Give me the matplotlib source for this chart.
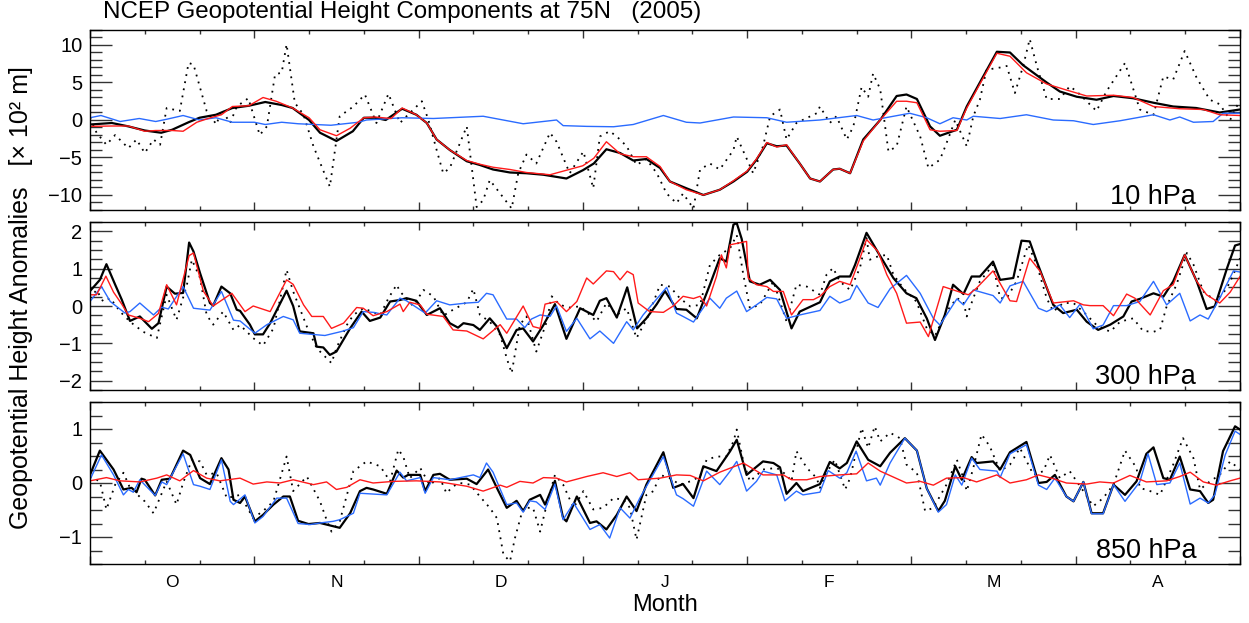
import matplotlib
matplotlib.use('Agg')
import numpy as np
import matplotlib.pyplot as plt
from matplotlib.ticker import MultipleLocator, NullFormatter

plt.rcParams['font.family'] = ['Liberation Sans', 'DejaVu Sans']

# x in days from 1 Oct, 30-day months (Oct..Apr)
month_labels = ['O', 'N', 'D', 'J', 'F', 'M', 'A']
panel_labels = ['10 hPa', '300 hPa', '850 hPa']

# ---- 10 hPa (x 10^2 m) ----
z10_black = [(0, -0.6), (4, -0.4), (7, -0.85), (10, -1.4), (13, -1.7), (15, -1.3), (18, -0.3), (20, 0.3), (23, 0.7),
             (26, 1.6), (29, 1.9), (32, 2.4), (35, 2.0), (37, 1.6), (40, 0), (42, -1.7), (45, -2.8), (48, -1.5),
             (50, 0.3), (52, 0.3), (54, 0), (57, 1.5), (59.6, 0.7), (61.5, -0.4), (63.3, -2.6), (65.7, -4),
             (68.8, -5.5), (71.2, -6), (73.6, -6.6), (76.7, -7), (79.7, -7.1), (82.8, -7.3), (87, -7.8), (90, -6.7),
             (92, -5.8), (94.3, -3.9), (96.8, -4.4), (99.2, -5.4), (101.6, -5.2), (104.1, -6.4), (105.9, -8.2),
             (108.9, -9.1), (112, -10), (115, -9.3), (117.5, -8.2), (120, -6.9), (121.7, -5.3), (123.6, -3.1),
             (125.4, -3.5), (127.2, -3.4), (129.6, -5.8), (131.5, -7.8), (133.3, -8.2), (135.7, -6.6), (136.9, -6.5),
             (138.8, -7.1), (141.2, -2.6), (144.3, 0), (147.3, 3.2), (149.1, 3.4), (151, 2.8), (153.4, -0.85),
             (155.2, -2.1), (158.3, -1.3), (160.1, 1.8), (162.5, 5), (165.6, 9.1), (168, 9), (170.4, 7.3),
             (174.7, 5), (177.1, 3.8), (180.2, 3.1), (183.8, 2.7), (186.9, 3.2), (190.5, 2.9), (194.2, 2.3),
             (197.8, 1.8), (202, 1.6), (206.3, 1.0), (210, 1.4)]
z10_red = [(0, -0.85), (4, -0.8), (7, -0.8), (10, -1.5), (12, -1.4), (15, -1.4), (17, -1.5), (19.5, -0.3), (22, 0.3),
           (24, 0.7), (26, 1.8), (29, 1.9), (31.6, 3.0), (34, 2.5), (37, 1.6), (40, 0.3), (42, -1.3), (45, -2.1),
           (47.5, -1.1), (50, 0.3), (52, 0.4), (55, 0.2), (57, 1.6), (59.6, 0.7), (61.5, -0.4), (63.3, -2.6),
           (65.7, -4), (68.8, -5.4), (71.2, -5.9), (73.6, -6.3), (76.7, -6.6), (79.7, -7), (84, -7.3), (87, -6.7),
           (90, -6.1), (92, -5.1), (94.3, -2.9), (96.8, -4.5), (99.2, -4.9), (101.6, -4.9), (104.1, -6.2),
           (105.9, -8.2), (108.9, -9.3), (112, -10), (115, -9.3), (117.5, -8.1), (120, -6.8), (121.7, -5.2),
           (123.6, -3), (125.4, -3.6), (127.2, -3.3), (129.6, -5.8), (131.5, -7.8), (133.3, -8.2), (135.7, -6.6),
           (136.9, -6.5), (138.8, -7.1), (141.2, -2.8), (144.3, 0), (147.3, 2.5), (149.1, 2.5), (151, 2.3),
           (153.4, -1.3), (155.2, -1.5), (158.3, -1.4), (160.1, 1.6), (162.5, 4.8), (165.6, 8.9), (168, 8.5),
           (171, 6.3), (174.7, 4.8), (178.3, 4.0), (182, 3.2), (186.9, 3.3), (190.5, 3.0), (194.2, 1.8),
           (199, 1.5), (203.3, 1.4), (206.3, 0.7), (210, 0.6)]
z10_blue = [(0, 0.3), (2, 0.6), (5.5, -0.2), (9, 0.2), (12, -0.2), (14, 0.1), (17, 0.6), (20, 0), (23, 0.3),
            (26, -0.3), (30, -0.3), (32, -0.6), (35, -0.3), (38, -0.5), (44, -0.7), (49, -0.3), (50.5, 0),
            (57, 0.3), (62.7, 0.2), (71.8, 0.5), (79.1, -0.5), (85.2, 0), (86.4, -0.75), (90.7, -0.85),
            (95.6, -0.9), (99.2, -0.6), (104.7, 0.6), (108.9, -0.3), (111.4, -0.4), (117.5, 0.4), (123.6, 0.3),
            (127.2, -0.3), (133.3, 0), (140, 0.6), (143, 0), (149.7, 0.9), (152.8, 0.3), (155.2, -0.5),
            (157.6, 0.3), (160.1, 0), (161.3, 0.5), (166.2, 0.2), (171, 0.7), (175.9, 0), (179.6, -0.1),
            (183.2, -0.6), (188.1, -0.1), (194.2, 0.7), (197.2, 0), (199, 0.4), (201.5, -0.3), (205.1, -0.2),
            (206.9, 0.9), (210, 0.9)]
z10_dot = [(0, 0.3), (1.2, -1.7), (3, -3.3), (4.6, -2), (7, -3.75), (8.5, -2.6), (10, -4.4), (11.6, -2.6),
           (12.8, -3.3), (14, 1.6), (16.4, 1.2), (18, 7.6), (18.9, 7.4), (21.3, 1.2), (23.1, -0.6), (24, 1.4),
           (25.6, -0.4), (26.8, 1.8), (28.9, 2.9), (31, -2), (32.3, -0.85), (33.8, 6.1), (35, 6.3), (35.9, 10.1),
           (37.4, 2.3), (39, 0.7), (40.8, -3.5), (43.8, -8.9), (45.6, 0.5), (48.1, 1.8), (50.2, 3.4), (52.3, -0.4),
           (54.5, 3.5), (56.6, -0.4), (57.8, 0.5), (60.6, 2.5), (61.8, 0), (63.3, -4), (64.5, -7.1), (65.7, -6.4),
           (68.8, -0.85), (70.6, -11.6), (71.8, -10.7), (73, -8), (74.9, -9.8), (77, -11.8), (78.2, -7.1),
           (79.7, -4.6), (81.5, -5.8), (84, -1.7), (85.2, -2.9), (87.6, -7.1), (90.1, -4.2), (91.9, -9.1),
           (93.1, -2.2), (94.9, -1.5), (96.2, -2.2), (98, -3.5), (99.8, -6), (101.6, -5.2), (103.5, -7.1),
           (105.3, -9.8), (107.1, -11.1), (108.3, -9.8), (110.2, -11.8), (111.4, -6.6), (113.2, -5.8), (115, -6.6),
           (117.5, -4), (118.1, -2.2), (121.1, -7.1), (122.9, -3.5), (124.2, 0.5), (126, 1.4), (127.2, -2.6),
           (129, -0.4), (132.7, 0.9), (133.3, 1.8), (135.1, -0.4), (136.3, 0.5), (138.2, -2.6), (139.4, -0.85),
           (140.9, 4.4), (142.1, 3.1), (143, 6.2), (144.3, 4.1), (145.8, -4.2), (147.3, -3.5), (149.1, 1.8),
           (151.6, -2.2), (153.1, -6.4), (155.2, -5.3), (156.4, -3.1), (158, 0), (160.1, -3.5), (161.3, 0.5),
           (162.5, 2.7), (163.7, 6.7), (166.2, 7), (167.4, 7.2), (168.9, 3.6), (170.4, 7.2), (171.6, 10.8),
           (172.9, 7.2), (174.7, 2.8), (177.1, 2.8), (178.9, 4.5), (180.2, 3.8), (183.8, 1.2), (185.6, 3.8),
           (189, 7.6), (191.7, 1.4), (194.2, 0.7), (196, 5.8), (197.8, 5.4), (199.9, 9.2), (202.1, 5.6),
           (204.5, 2.7), (206.3, 2.1), (208.2, 0), (210, 2.7)]

# ---- 300 hPa ----
z300_black = [(0, 0.4), (1.8, 0.7), (3, 1.12), (4.6, 0.57), (5.8, 0.17), (7.3, -0.4), (9.1, -0.28), (11.3, -0.61),
              (12.5, -0.46), (14, 0.52), (15.5, 0.33), (17, 0.35), (18.1, 1.7), (18.9, 1.46), (20.1, 0.88),
              (21.9, 0.08), (22.5, 0.01), (24, 0.52), (25.6, 0.34), (26.8, -0.1), (27.4, -0.13), (29.2, -0.5),
              (30.1, -0.76), (31.6, -0.76), (32.9, -0.46), (35.9, 0.41), (37.1, 0), (38.3, -0.68), (40.8, -0.73),
              (41.4, -1.09), (42.6, -1.11), (43.8, -1.31), (45, -1.22), (47.5, -0.6), (49.6, -0.15), (51.1, -0.4),
              (53, -0.31), (54.8, 0.12), (56.6, 0.16), (57.8, 0.21), (59.6, 0.14), (61.5, -0.24), (63.9, -0.06),
              (65.7, -0.46), (67.2, -0.58), (68.2, -0.46), (70, -0.51), (71.2, -0.64), (73, -0.33), (74.3, -0.55),
              (76.1, -1.13), (77.9, -0.64), (79.1, -0.6), (80.9, -0.95), (82.8, -0.51), (84.9, 0.05), (87, -0.88),
              (89.5, -0.06), (91.9, -0.24), (93.1, 0.14), (94.3, 0.21), (96.2, -0.31), (98.1, 0.5), (99.9, -0.6),
              (101.6, -0.33), (103.5, 0.05), (105, 0.4), (107.1, -0.08), (108.9, -0.1), (110.8, -0.33),
              (113.2, 0.57), (115, 1.28), (116.2, 1.19), (117.5, 2.18), (118.1, 2.22), (119, 1.8), (120.5, 0.66),
              (122.3, 0.57), (124.2, 0.7), (126, 0.43), (128.1, -0.6), (129.6, -0.15), (133.3, 0.1),
              (135.1, 0.66), (136.9, 0.79), (138.8, 0.79), (139.7, 1.1), (141.8, 1.96), (143.6, 1.51),
              (144.9, 1.19), (146.7, 0.75), (149.1, 0.34), (150.9, 0.21), (152.8, -0.33), (154.3, -0.91),
              (156.1, -0.24), (157.6, 0.57), (159.5, 0.32), (161, 0.79), (162.5, 0.79), (164.9, 1.19), (166.2, 0.7),
              (168.6, 0.75), (170.1, 1.75), (171.6, 1.73), (172.9, 1.19), (175.9, 0.03), (177.7, -0.19),
              (180.2, -0.1), (182, -0.42), (184.1, -0.64), (186.3, -0.5), (188.7, -0.28), (190.2, 0.12),
              (191.7, 0.19), (194.2, 0.34), (196, 0.25), (197.8, 0.66), (199.9, 1.37), (202.1, 0.66),
              (203.9, -0.08), (205.4, -0.01), (207.6, 1.0), (209.1, 1.62), (210, 1.66)]
z300_red = [(0, 0.3), (1.2, 0.3), (2.9, 0.8), (4.3, 0.37), (5.8, 0.05), (7, -0.24), (9.1, -0.33), (10.7, -0.42),
            (12.5, -0.2), (14, 0.57), (15.8, 0.03), (18.1, 1.35), (18.9, 1.42), (20.7, 0.4), (22.5, 0), (25.9, 0.34),
            (28.3, -0.15), (29.8, 0), (32.9, -0.15), (35.9, 0.7), (37.1, 0.58), (39, 0.03), (40.5, -0.28),
            (42.6, -0.28), (44.1, -0.6), (46.3, -0.46), (48.7, -0.04), (49.9, -0.06), (51.7, -0.26), (54.2, -0.15),
            (56.6, 0.05), (57.2, -0.15), (58.4, 0.1), (60.3, 0.03), (61.5, -0.22), (64.5, -0.28), (66.3, -0.64),
            (68.8, -0.67), (71.8, -0.88), (74.9, -0.5), (76.1, -0.73), (79.1, 0), (80.9, -0.55), (82.2, -0.6),
            (83.1, 0.05), (85.2, 0.12), (87, -0.15), (88.9, 0.12), (90.7, 0.75), (91.9, 0.59), (94.3, 0.94),
            (95.6, 0.92), (96.8, 0.7), (98.1, 0.93), (99.2, 0.84), (100.1, 0.08), (102.2, -0.15), (104.7, -0.17),
            (106.5, 0), (108.3, 0.26), (110.2, 0.2), (111.4, 0.26), (112.6, 0), (114.4, 0.79), (115.3, 1.37),
            (116.2, 1.02), (116.9, 1.64), (119.9, 1.73), (120.2, 0.75), (121.7, 0.57), (123.6, 0.52), (124.8, 0.39),
            (126.6, 0.39), (128.1, -0.24), (130.2, 0.17), (132.1, 0.17), (133.3, 0.26), (135.1, 0.52),
            (136.9, 0.66), (138.8, 0.57), (140.6, 1.28), (141.8, 1.78), (143.9, 1.46), (145.5, 0.84), (147.3, 0.34),
            (149.1, -0.46), (151.6, -0.43), (153.1, -0.82), (155.8, 0.52), (158.9, 0.37), (160.4, 0.3),
            (161.9, 0.48), (164.9, 0.94), (168, 0.14), (169.2, 0.12), (171.6, 1.28), (173.5, 0.93), (175.9, 0.08),
            (179.6, 0.14), (181.4, 0.03), (182.6, 0.01), (185, 0.01), (186.9, -0.26), (189.3, 0.32), (190.8, 0.21),
            (193.6, -0.24), (196, 0.41), (197.8, 0.57), (199.9, 1.37), (202.1, 0.66), (203.9, 0.3), (206.3, 0.08),
            (208.2, 0.37), (210, 0.79)]
z300_blue = [(0, 0.12), (2.1, 0.52), (3.7, 0.12), (6.4, -0.19), (7.3, -0.15), (9.1, 0.08), (11.6, -0.24),
             (13.1, -0.03), (14.3, -0.08), (17, 0.52), (18.9, -0.06), (21.9, -0.11), (24, 0.39), (26.2, -0.38),
             (27.4, -0.4), (30.1, -0.73), (32.3, -0.5), (35.3, -0.28), (37.1, -0.37), (38.3, -0.73), (42.9, -0.79),
             (46, -0.68), (48.1, -0.58), (49.9, -0.15), (51.7, -0.17), (54.2, -0.24), (56.6, 0.21), (57.8, 0.14),
             (58.4, 0.08), (61.2, -0.19), (63.3, 0.14), (65.7, 0.03), (68.8, 0.08), (70.9, 0.1), (72.4, 0.34),
             (73.6, 0.3), (76.1, -0.35), (77.9, -0.35), (79.4, -0.58), (80.6, -0.35), (82.2, -0.24), (84, -0.28),
             (85.2, 0), (87, -0.68), (88.9, -0.33), (91.3, -0.88), (93.1, -0.67), (95.6, -1.0), (98, -0.42),
             (99.2, -0.64), (101, -0.24), (105.3, 0.5), (107.1, -0.19), (108.3, -0.28), (110.2, -0.43),
             (113.2, 0.21), (115, -0.06), (116.2, 0.21), (118.1, 0.4), (119.9, -0.15), (121.7, 0.03), (123.6, 0.23),
             (125.4, 0.19), (127.2, -0.33), (129.6, -0.24), (133.3, -0.12), (135.1, 0.26), (136.9, 0.08),
             (138.8, 0.19), (140, 0.55), (142.1, 0.08), (143.9, -0.04), (146.1, 0.46), (149.1, 0.82), (151.6, 0.34),
             (154, -0.33), (155.2, -0.51), (158.3, 0.19), (159.5, 0.03), (161.3, 0.43), (164.9, 0.28), (166.2, 0.08),
             (168, 0.54), (170.4, 0.66), (173.2, -0.06), (174.7, -0.15), (177.1, 0.03), (178.9, -0.31),
             (180.8, 0.05), (183.2, -0.61), (185, -0.51), (186.9, 0.01), (189.3, 0.01), (191.7, 0.12), (194.2, 0.66),
             (196.6, 0.03), (199, 0.34), (200.9, -0.4), (202.7, -0.24), (204.2, -0.35), (206.3, 0.21),
             (208.8, 0.94), (210, 0.91)]
z300_dot = [(0, 0.21), (1.2, 0.43), (2.4, 0.12), (3.7, 0.21), (5.5, -0.15), (7.3, -0.42), (9.7, -0.69), (12.2, -0.86),
            (14, 0.3), (15.2, -0.15), (15.8, -0.37), (17.7, 0.57), (18.6, 1.24), (20.1, 0.75), (21.3, -0.24),
            (22.5, -0.5), (24.3, -0.15), (26.2, -0.64), (27.4, -0.51), (29.8, -0.86), (31.6, -1.06), (33.5, -0.6),
            (34.7, 0.17), (35.9, 0.97), (37.1, 0.39), (39.6, -0.55), (41.4, -1.13), (44.1, -1.53), (45, -1.13),
            (46.9, -0.51), (48.1, -0.24), (49.9, -0.06), (53, -0.24), (54.5, 0.21), (56, 0.57), (56.6, 0.39),
            (59, 0), (60.9, 0.43), (62.7, 0.26), (64.5, -0.26), (66.3, -0.1), (68.8, 0.1), (70, 0.46),
            (71.2, -0.24), (73, -0.42), (74.9, -0.77), (76.1, -1.4), (77, -1.8), (78.5, -0.5), (79.7, -0.28),
            (81.5, -1.22), (83.4, -0.42), (84.3, 0.26), (85.8, 0.03), (87.6, -0.04), (89.5, -0.01), (91.3, -0.24),
            (92.5, -0.42), (94.3, 0.08), (96.2, -0.24), (98, -0.06), (99.8, -0.86), (101.9, -0.28), (104.1, 0.57),
            (105.9, 0.52), (107.7, 0.21), (109.6, -0.01), (111.4, 0.03), (113.2, 1.1), (115, 1.37), (116.9, 1.55),
            (118.1, 1.9), (119.3, 0.84), (120.5, -0.06), (122.3, 0.03), (124.8, 0.66), (127.2, -0.42), (129, 0.57),
            (130.9, 0.52), (133.3, 0.3), (134.5, 0.84), (135.7, 1.02), (136.9, 0.66), (138.8, 0.43), (140.6, 1.02),
            (141.8, 1.82), (142.4, 1.24), (143.9, 1.33), (145.5, 1.37), (146.7, 0.84), (148.5, 0.48),
            (150.9, 0.12), (152.8, -0.6), (154.3, -0.8), (156.4, -0.15), (158.3, 0.21), (159.5, 0.12),
            (160.1, -0.28), (161.3, 0.21), (162.5, 0.66), (164.9, 1.1), (166.2, 0.21), (167.4, 0.21), (169.2, 0.66),
            (171.3, 1.64), (172.9, 1.1), (174.7, 0.21), (175.9, -0.15), (177.7, 0.08), (179.6, 0.08), (182, -0.24),
            (183.8, -0.51), (186.3, -0.69), (188.1, -0.42), (190.5, -0.33), (192.3, -0.67), (194.2, -0.69),
            (195.4, -0.64), (196.6, -0.01), (198.4, 0.57), (200.3, 1.42), (201.5, 1.11), (203.3, 0.39),
            (205.7, 0.12), (207.6, 0.48), (208.8, 0.84), (210, 1.28)]

# ---- 850 hPa ----
z850_black = [(0, 0.15), (1.8, 0.6), (4.3, 0.25), (6.1, -0.12), (7.6, -0.09), (8.5, -0.17), (9.4, 0.08), (10, 0.06),
              (11.9, -0.23), (13.1, 0.06), (14.6, 0.08), (17, 0.6), (18.3, 0.52), (20.1, 0.09), (21.9, -0.02),
              (24, 0.46), (25.3, 0.25), (26.2, -0.31), (27.4, -0.37), (28.3, -0.25), (30.1, -0.71), (31.6, -0.59),
              (33.5, -0.4), (35.3, -0.25), (36.5, -0.25), (38, -0.7), (39.9, -0.76), (42, -0.74), (43.2, -0.77),
              (45.6, -0.83), (47.5, -0.56), (49.3, -0.15), (50.5, -0.09), (51.7, -0.12), (54.2, -0.2), (56, 0.23),
              (57.2, 0.1), (58.1, 0.15), (60.3, 0.15), (61.2, -0.15), (62.7, 0.15), (63.9, 0.17), (65.7, 0.06),
              (68.8, 0.08), (70.6, -0.02), (72.7, 0.25), (74.3, -0.09), (76.1, -0.46), (77.9, -0.33), (79.1, -0.52),
              (80.3, -0.31), (82.2, -0.22), (83.1, -0.4), (84.9, 0.04), (86.4, -0.65), (87, -0.71), (88.9, -0.25),
              (91.3, -0.74), (92.5, -0.71), (94.3, -0.86), (96.2, -0.59), (98, -0.25), (99.8, -0.52), (101.6, -0.03),
              (104.7, 0.57), (106.5, -0.09), (108.3, -0.02), (110.2, -0.28), (112, 0.31), (114.4, 0.22),
              (116.9, 0.59), (118.1, 0.8), (119.9, 0.15), (121.1, 0.25), (122.9, 0.4), (124.8, 0.37), (126, 0.29),
              (127.2, -0.2), (129, 0), (130.2, -0.15), (133.3, -0.02), (135.1, 0.39), (136.9, 0.27), (138.2, 0.37),
              (140, 0.77), (142.1, 0.43), (144.3, 0.31), (146.1, 0.56), (148.8, 0.83), (151, 0.6), (152.8, -0.1),
              (154.9, -0.52), (156.1, -0.33), (158, 0.31), (159.2, 0.06), (161, 0.48), (161.9, 0.37), (164.9, 0.4),
              (166.2, 0.25), (168, 0.57), (171, 0.76), (173.2, 0), (174.7, 0.02), (176.2, 0.15), (178.3, -0.25),
              (179.6, -0.34), (181.4, 0.02), (182.9, -0.56), (185, -0.56), (186.9, -0.03), (189, -0.22),
              (191.1, 0.03), (192.9, 0.54), (194.2, 0.66), (196, 0.09), (197.2, 0.06), (199, 0.49), (200.9, -0.12),
              (202.7, -0.15), (204.2, -0.37), (205.1, -0.31), (206.9, 0.59), (209.1, 1.05), (210, 0.99)]
z850_red = [(0, 0.04), (3, 0.1), (5.5, 0.04), (9.1, 0.02), (12.2, 0.09), (14, 0.15), (16.4, 0.04), (18.9, 0.23),
            (21.3, 0.09), (23.7, 0.04), (27.4, 0.09), (29.8, -0.02), (32.3, 0.02), (34.7, 0), (37.1, 0.06),
            (40.8, -0.03), (43.2, 0.02), (45, -0.12), (46.9, -0.08), (49.3, 0.06), (51.7, 0), (55.4, 0.03),
            (59.6, 0.04), (63.9, 0.02), (68.8, -0.06), (71.8, -0.15), (74.9, -0.04), (76.1, -0.08), (78.5, 0.03),
            (80.9, 0), (82.8, 0.1), (85.2, 0.09), (87, 0.02), (90.7, 0.12), (93.7, 0.19), (96.2, 0.12), (98.6, 0.19),
            (100.1, 0.06), (104.1, 0.09), (107.1, 0.15), (109.6, 0.14), (112, 0.04), (115, 0.2), (119.3, 0.37),
            (122.9, 0.15), (126.6, 0.15), (128.1, 0.06), (130.9, 0.06), (133.3, 0.12), (136.9, 0.15), (140, 0.17),
            (142.1, 0.37), (144.3, 0.22), (149.1, 0), (151.6, 0.03), (154, -0.04), (156.4, 0.09), (159.5, 0.1),
            (161.9, 0.02), (165.6, 0.15), (168, 0), (171, 0.06), (173.2, 0.15), (175.9, 0.08), (178.3, 0),
            (182, -0.02), (184.4, 0.02), (186.9, 0), (189.9, 0.14), (192.9, 0.02), (196.6, 0.04), (199, 0.12),
            (200.9, 0.2), (203.3, 0.02), (205.7, -0.04), (208.2, 0.04), (210, 0.09)]
z850_blue = [(0, 0.06), (2.1, 0.52), (4.3, 0.15), (6.1, -0.22), (7, -0.12), (7.9, -0.17), (9.1, 0.06), (11.9, -0.23),
             (13.1, 0.02), (14, -0.03), (17, 0.54), (18.9, -0.03), (20.1, -0.06), (21.9, -0.12), (24, 0.43),
             (25.6, -0.34), (26.2, -0.4), (28.3, -0.22), (30.1, -0.74), (31.6, -0.62), (34.1, -0.28), (35.9, -0.28),
             (38, -0.75), (40.2, -0.77), (42, -0.74), (44.4, -0.71), (45.6, -0.68), (48.1, -0.56), (49.3, -0.19),
             (54.2, -0.22), (56.6, 0.2), (57.8, 0.04), (60.3, 0.1), (61.2, -0.19), (62.7, 0.1), (65.7, 0.06),
             (70, 0.15), (71.2, 0.1), (72.4, 0.37), (73.6, 0.2), (76.1, -0.4), (77.9, -0.37), (79.1, -0.54),
             (80.3, -0.33), (81.5, -0.35), (83.1, -0.49), (84.9, -0.02), (86.4, -0.68), (88.3, -0.37),
             (91.3, -0.86), (93.1, -0.77), (94.9, -1.02), (96.8, -0.46), (98.6, -0.65), (100.4, -0.28),
             (104.7, 0.49), (107.1, -0.22), (108.3, -0.29), (110.2, -0.43), (112.6, 0.22), (115, -0.03),
             (116.9, 0.22), (118.1, 0.4), (119.9, -0.15), (121.7, 0.03), (122.9, 0.22), (125.4, 0.15),
             (126.9, -0.33), (129, -0.15), (130.2, -0.22), (133.3, -0.17), (134.8, 0.23), (136.9, 0.09),
             (138.2, 0.19), (139.9, 0.59), (141.8, 0.04), (143.6, 0.09), (144.3, -0.04), (146.1, 0.37),
             (148.8, 0.83), (151, 0.6), (152.8, -0.1), (154.9, -0.54), (156.4, -0.4), (158, 0.15), (159.2, -0.04),
             (161, 0.46), (162.5, 0.25), (165.6, 0.22), (166.2, 0.1), (168, 0.54), (171, 0.71), (173.2, -0.04),
             (174.7, -0.12), (176.2, 0.09), (178.3, -0.25), (179.6, -0.34), (181.4, 0.02), (182.9, -0.57),
             (185, -0.57), (186.9, -0.03), (189, -0.34), (191.7, 0.02), (193.2, 0.54), (194.8, -0.03), (197.2, 0),
             (199, 0.37), (200.9, -0.39), (202.7, -0.28), (204.2, -0.37), (205.4, -0.22), (207.3, 0.52),
             (209.1, 0.96), (210, 0.9)]
z850_dot = [(0, 0.12), (1.8, 0.03), (3, -0.49), (4.6, -0.03), (6.1, 0.19), (7.3, -0.09), (10, -0.34), (11.6, -0.56),
            (14, 0.03), (15.8, -0.4), (17, 0), (18.6, 0.43), (20.1, 0.4), (21.3, 0.15), (23.1, 0.19), (25, -0.28),
            (27.4, -0.22), (29.8, -0.65), (31.6, -0.52), (33.5, -0.34), (35.9, 0.49), (37.1, -0.15), (39.6, 0.12),
            (42, -0.34), (43.2, -0.68), (44.1, -0.9), (45.6, -0.71), (48.1, 0.22), (50.5, 0.4), (53, 0.31),
            (54.8, 0.03), (56.3, 0.62), (57.2, 0.49), (58.4, 0.09), (60.3, 0.28), (62, -0.03), (63.9, 0.09),
            (65.1, -0.19), (66.3, -0.06), (67.6, 0), (69.4, -0.03), (71.2, -0.25), (73, -0.46), (74.3, -0.65),
            (75.5, -1.33), (76.7, -1.45), (77.6, -1.02), (79.1, -0.46), (80.9, -0.46), (82.2, -0.9), (83.4, -0.4),
            (84.9, 0.15), (86.4, -0.03), (88.3, -0.46), (90.1, -0.15), (91.9, -0.49), (93.7, -0.46), (95.6, -0.28),
            (97.4, -0.31), (98.6, -0.46), (99.8, -1.05), (101.6, -0.22), (102.9, -0.15), (104.1, 0.15),
            (105.9, 0.09), (107.7, -0.03), (109.6, 0.03), (111.4, 0.12), (112.6, 0.43), (114.4, 0.49),
            (116.2, 0.49), (117.5, 0.77), (118.1, 0.99), (119.3, 0.4), (120.5, 0.03), (122.9, 0.25), (125.4, 0.28),
            (127.2, 0.15), (128.1, 0.03), (129, 0.59), (130.9, 0.28), (132.7, 0.09), (133.3, -0.09), (134.5, 0.19),
            (136, 0.43), (137.9, -0.12), (138.8, 0.09), (140.9, 1.02), (142.1, 0.65), (143.3, 1.05), (144.3, 0.77),
            (146.1, 0.93), (147.9, 0.83), (149.1, 0.34), (151, 0.19), (152.5, -0.52), (154, -0.46), (156.4, -0.03),
            (158.3, 0.43), (159.5, 0.09), (160.1, -0.15), (161.3, 0.28), (162.8, 0.9), (164.3, 0.68), (166.2, 0.22),
            (168, 0.34), (169.8, 0.65), (172.3, 0.15), (174.1, 0.22), (175.3, 0.52), (177.1, 0.09), (178.9, 0.22),
            (181.4, -0.15), (183.2, -0.43), (185, -0.28), (186.9, -0.03), (189, 0.6), (191.1, 0.28), (191.7, -0.09),
            (193.6, -0.15), (195.4, -0.22), (197.8, 0.34), (199.6, 0.83), (201.5, 0.46), (202.7, -0.12),
            (204.5, 0.03), (206.3, 0.15), (208.2, 0.4), (210, 0.25)]

RED = '#ff1a1a'
BLUE = '#2a6bff'


def draw(ax, black, red, blue, dot):
    for series, kw in [(dot, dict(color='k', lw=1.3, ls=(0, (1, 3)))),
                       (black, dict(color='k', lw=1.6)),
                       (blue, dict(color=BLUE, lw=1.0)),
                       (red, dict(color=RED, lw=1.0))]:
        x, y = zip(*series)
        ax.plot(x, y, **kw)


fig = plt.figure(figsize=(12.49, 6.23), dpi=100)
W, H = 1249.0, 623.0
boxes = [(30, 210), (222, 390), (402, 564)]
data = [(z10_black, z10_red, z10_blue, z10_dot),
        (z300_black, z300_red, z300_blue, z300_dot),
        (z850_black, z850_red, z850_blue, z850_dot)]
ylims = [(-12, 12), (-2.25, 2.25), (-1.5, 1.5)]
ymaj = [5, 1, 1]
ymin = [1, 0.25, 0.25]

for i, ((top, bot), series) in enumerate(zip(boxes, data)):
    ax = fig.add_axes([90 / W, 1 - bot / H, 1150 / W, (bot - top) / H])
    draw(ax, *series)
    ax.set_xlim(0, 210)
    ax.set_ylim(*ylims[i])
    ax.xaxis.set_major_locator(MultipleLocator(30))
    ax.xaxis.set_minor_locator(MultipleLocator(10))
    ax.yaxis.set_major_locator(MultipleLocator(ymaj[i]))
    ax.yaxis.set_minor_locator(MultipleLocator(ymin[i]))
    ax.xaxis.set_major_formatter(NullFormatter())
    ax.tick_params(axis='both', which='both', direction='in', top=True, right=True, width=1.0, color='#333333')
    ax.tick_params(axis='y', which='major', length=16, labelsize=14.5, pad=5.5)
    ax.tick_params(axis='y', which='minor', length=8.5)
    ax.tick_params(axis='x', which='major', length=5.5)
    ax.tick_params(axis='x', which='minor', length=3)
    for s in ax.spines.values():
        s.set_linewidth(1.0)
    ax.text(0.962, 0.035, panel_labels[i], transform=ax.transAxes, ha='right', va='baseline', fontsize=19.5)
    if i == 2:
        for k, lbl in enumerate(month_labels):
            ax.annotate(lbl, xy=(15 + 30 * k, 0), xycoords=('data', 'axes fraction'), xytext=(0, -8),
                        textcoords='offset points', ha='center', va='top', fontsize=12.5)
        ax.set_xlabel('Month', fontsize=17, labelpad=18)

fig.text(103 / W, 0.999, 'NCEP Geopotential Height Components at 75N   (2005)', ha='left', va='top', fontsize=17.4)
fig.text(0.017, 0.523, 'Geopotential Height Anomalies   [× 10² m]', rotation=90, ha='center', va='center',
         fontsize=18)

fig.savefig('out.png', dpi=100)
